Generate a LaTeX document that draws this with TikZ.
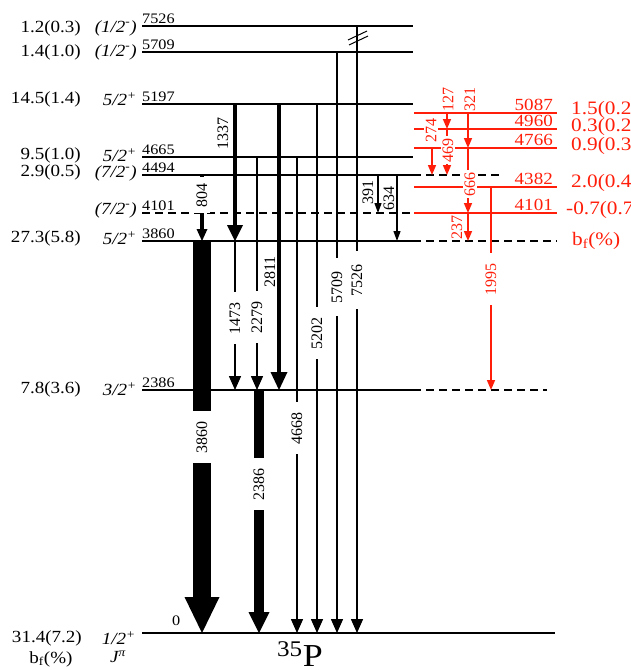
\documentclass[tikz,border=0pt]{standalone}
\usepackage{fontspec}
\setmainfont{Liberation Serif}
\usetikzlibrary{arrows.meta}
\definecolor{redc}{RGB}{255,30,10}
\newcommand{\fatarrow}[6]{%
  \fill (#1-#4/2,#2) rectangle (#1+#4/2,#3-#6);
  \fill (#1-#5/2,#3-#6) -- (#1+#5/2,#3-#6) -- (#1,#3) -- cycle;}
\newcommand{\sx}[1]{\scalebox{1.12}[1]{#1}}
\begin{document}
\begin{tikzpicture}[x=1pt,y=-1pt,
  lvl/.style={line width=2.2pt},
  lvld/.style={line width=2.2pt,dash pattern=on 8pt off 5pt},
  rlvl/.style={line width=2.2pt,draw=redc},
  tr/.style={line width=1.5pt,-{Triangle[width=12pt,length=14pt]}},
  trs/.style={line width=1.2pt,-{Triangle[width=7pt,length=10pt]}},
  rtr/.style={line width=1.6pt,draw=redc,-{Triangle[width=8pt,length=10pt]}},
  lval/.style={anchor=east,inner sep=0pt,font=\fontsize{17}{17}\selectfont},
  spin/.style={anchor=east,inner sep=0pt,font=\fontsize{17}{17}\selectfont\itshape},
  en/.style={anchor=south west,inner sep=1pt,font=\fontsize{14.5}{14.5}\selectfont},
  ren/.style={anchor=south east,inner sep=1pt,text=redc,font=\fontsize{17}{17}\selectfont},
  rval/.style={anchor=west,inner sep=0pt,text=redc,font=\fontsize{19}{19}\selectfont},
  tl/.style={rotate=90,inner sep=0pt,font=\fontsize{16}{16}\selectfont},
  gapl/.style={tl,fill=white,inner xsep=10pt,inner ysep=3pt},
  rtl/.style={tl,text=redc},
  rgap/.style={rtl,fill=white,inner xsep=2pt,inner ysep=2pt}
]
\useasboundingbox (0,0) rectangle (630,670);

% ---- black levels
\draw[lvl] (142,26) -- (413,26);
\draw[lvl] (142,52) -- (413,52);
\draw[lvl] (142,104) -- (413,104);
\draw[lvl] (142,157) -- (413,157);
\draw[lvl] (142,175) -- (413,175);
\draw[lvld] (413,175) -- (503,175);
\draw[lvld] (142,213) -- (413,213);
\draw[lvl] (142,241) -- (413,241);
\draw[lvld] (413,241) -- (557,241);
\draw[lvl] (142,390) -- (413,390);
\draw[lvld] (413,390) -- (547,390);
\draw[lvl] (142,633) -- (555,633);

% ---- red levels
\draw[rlvl] (414,113) -- (557,113);
\draw[rlvl] (414,129) -- (557,129);
\draw[rlvl] (414,148) -- (557,148);
\draw[rlvl] (414,187) -- (557,187);
\draw[rlvl] (414,213) -- (557,213);

% ---- left labels
\node[lval] at (81,28) {\sx{1.2(0.3)}};
\node[lval] at (81,52) {\sx{1.4(1.0)}};
\node[lval] at (81,99) {\sx{14.5(1.4)}};
\node[lval] at (81,155) {\sx{9.5(1.0)}};
\node[lval] at (81,172) {\sx{2.9(0.5)}};
\node[lval] at (81,238) {\sx{27.3(5.8)}};
\node[lval] at (81,389) {\sx{7.8(3.6)}};
\node[lval] at (82,638) {\sx{31.4(7.2)}};
\node[spin] at (137,28) {\sx{(1/2\textsuperscript{-})}};
\node[spin] at (137,52) {\sx{(1/2\textsuperscript{-})}};
\node[spin] at (137,99) {\sx{5/2\textsuperscript{+}}};
\node[spin] at (137,155) {\sx{5/2\textsuperscript{+}}};
\node[spin] at (137,173) {\sx{(7/2\textsuperscript{-})}};
\node[spin] at (137,210) {\sx{(7/2\textsuperscript{-})}};
\node[spin] at (137,238) {\sx{5/2\textsuperscript{+}}};
\node[spin] at (137,389) {\sx{3/2\textsuperscript{+}}};
\node[spin] at (136,638) {\sx{1/2\textsuperscript{+}}};
\node[lval,anchor=center] at (51,659) {\sx{b\textsubscript{f}(\%)}};
\node[spin,anchor=center] at (118,657) {\sx{J\textsuperscript{π}}};

% ---- energy labels
\node[en] at (141,25) {\sx{7526}};
\node[en] at (141,51) {\sx{5709}};
\node[en] at (141,103) {\sx{5197}};
\node[en] at (141,156) {\sx{4665}};
\node[en] at (141,174) {\sx{4494}};
\node[en] at (141,212) {\sx{4101}};
\node[en] at (141,240) {\sx{3860}};
\node[en] at (141,389) {\sx{2386}};
\node[en] at (171,627) {\sx{0}};

% ---- thick transitions
\fatarrow{202}{241}{633}{18}{35}{36}
\fatarrow{259}{390}{633}{10}{21}{21}
\fatarrow{235}{104}{241}{4.5}{16}{16}
\fatarrow{279}{104}{390}{4.5}{17}{18}
\fatarrow{202}{175}{241}{3.5}{11}{12}

% ---- thin transitions
\draw[tr] (235,241) -- (235,390);
\draw[tr] (257,157) -- (257,390);
\draw[tr] (297,157) -- (297,633);
\draw[tr] (317,104) -- (317,633);
\draw[tr] (337,52) -- (337,633);
\draw[tr] (357,26) -- (357,633);
\draw[trs] (378,175) -- (378,213);
\draw[trs] (397,175) -- (397,241);
% break mark
\draw[line width=1pt] (348,40) -- (367,31);
\draw[line width=1pt] (349,45) -- (368,36);

% ---- red transitions
\draw[rtr] (447,113) -- (447,129);
\draw[rtr] (468,113) -- (468,148);
\draw[rtr] (432,148) -- (432,175);
\draw[rtr] (447,129) -- (447,175);
\draw[rtr] (468,148) -- (468,213);
\draw[rtr] (468,213) -- (468,241);
\draw[rtr] (491,187) -- (491,390);

% ---- black transition labels
\node[gapl,inner xsep=6pt] at (202,195) {804};
\node[tl] at (223,133) {1337};
\node[gapl] at (235,318) {1473};
\node[gapl] at (257,317) {2279};
\node[tl] at (270,272) {2811};
\node[gapl] at (297,428) {4668};
\node[gapl] at (317,333) {5202};
\node[gapl,inner xsep=13pt] at (337,287) {5709};
\node[gapl,inner xsep=13pt] at (357,280) {7526};
\node[gapl,minimum height=24pt] at (202,437) {3860};
\node[gapl,minimum height=16pt] at (259,484) {2386};
\node[tl] at (368,192) {391};
\node[tl] at (389,198) {634};

% ---- red transition labels
\node[rtl] at (448,99) {127};
\node[rtl] at (470,99) {321};
\node[rgap] at (431,130) {274};
\node[rgap] at (448,150) {469};
\node[rgap] at (470,184) {666};
\node[rtl] at (457,227) {237};
\node[rgap,inner xsep=10pt] at (491,279) {1995};

% ---- red energy labels
\node[ren] at (554,112) {\sx{5087}};
\node[ren] at (554,128) {\sx{4960}};
\node[ren] at (554,147) {\sx{4766}};
\node[ren] at (554,186) {\sx{4382}};
\node[ren] at (554,212) {\sx{4101}};

% ---- red right labels
\node[rval] at (571,110) {\sx{1.5(0.2)}};
\node[rval] at (571,127) {\sx{0.3(0.2)}};
\node[rval] at (571,146) {\sx{0.9(0.3)}};
\node[rval] at (571,183) {\sx{2.0(0.4)}};
\node[rval] at (566,210) {\sx{-0.7(0.7)}};
\node[rval] at (572,241) {\sx{b\textsubscript{f}(\%)}};

% ---- nucleus
\node[anchor=base west,inner sep=0pt,font=\fontsize{32}{32}\selectfont] at (277,666) {\sx{\textsuperscript{35}P}};
\end{tikzpicture}
\end{document}
